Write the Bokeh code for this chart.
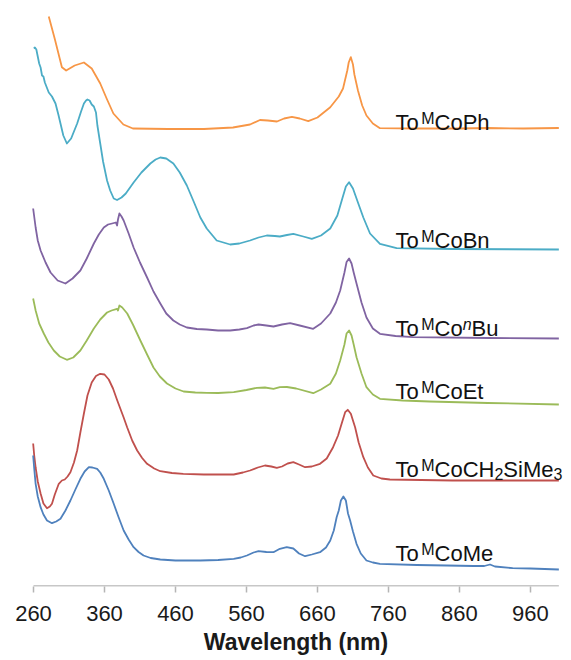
from bokeh.plotting import figure
from bokeh.models import Range1d, FixedTicker, Label
from bokeh.embed import file_html
from bokeh.resources import INLINE

# ---------------- data (wavelength nm, stacked absorbance, arbitrary units) ----------------
wl_ph = [281.5, 290, 300, 306, 318, 331, 342, 354, 363, 372.5, 386.6, 400, 450, 500, 541, 565, 579, 590,
         603, 613, 624, 635, 647, 660, 678, 690, 696, 702, 704, 707, 710, 712, 717, 723, 729, 738, 748, 800,
         860, 900, 950, 1000]
ab_ph = [570, 547.5, 519.3, 516, 521, 524, 518, 503, 488, 473, 462, 458, 457.5, 457.5, 459, 462, 466.5, 466,
         465, 468, 469.7, 468, 465.3, 469, 479.3, 490, 498, 516, 524, 529.3, 522, 512, 496, 481, 471, 463, 458.3,
         458, 458, 458.5, 458, 458.5]

wl_bn = [260.5, 262, 264, 266, 268, 270, 272, 274, 276, 281.5, 286, 291, 295, 298, 302, 307, 313,
         321.5, 327, 331, 334, 336, 339, 342, 345, 348, 350, 354, 358, 363.6, 368, 373, 377.7, 384, 390,
         401, 412, 424.6, 432, 438.6, 447, 457, 466, 476, 485, 495, 504, 518, 537, 550, 565, 577, 588.6,
         600, 607, 617, 626, 640, 652, 665, 678, 688, 695, 700, 704.5, 710, 717, 724.6, 734, 748, 771.5,
         850, 1000]
ab_bn = [538, 539, 537, 530, 523, 519, 511, 510, 504, 494, 490, 483, 472, 463, 451, 443, 448,
         463, 475, 483, 486, 487, 486, 482, 480, 474, 461, 443, 425, 406, 396, 388, 386.5, 389, 393,
         404, 414, 423, 427, 429, 428, 423, 414, 401, 386, 369, 358, 346, 342, 343, 346, 349, 351,
         350.5, 350, 351.5, 352.7, 350, 347.7, 351, 358, 371, 388, 400, 404.3, 398, 384, 369, 353, 342.7, 338.3,
         337.5, 337]

wl_bu = [259.5, 263, 266, 270, 277, 284, 294, 305, 315, 326, 335, 345, 352, 359, 365, 370.7, 376, 377.7,
         379, 381, 384, 387, 394, 401, 410, 420, 429, 438.6, 447, 457, 466, 476, 490, 504, 520, 537, 550,
         560.6, 570, 577, 588, 598, 610, 621.5, 635, 654, 665, 678, 686, 692, 698, 701, 704.5, 708, 711, 715,
         722, 729, 738, 748, 770, 795, 900, 1000]
ab_bu = [378, 359, 346, 336, 324, 314, 306, 303, 308, 316, 328, 343, 352, 359, 362, 363, 364, 361,
         367, 373, 370, 366, 353, 339, 324, 309, 295, 283, 273, 266, 262, 259, 257.5, 257, 256, 256, 257,
         258.3, 261, 262, 261, 260, 262, 263.3, 261, 257.7, 263, 273, 284, 296, 314, 324.5, 328, 323, 314, 303,
         284, 269, 258, 252.7, 250.5, 249.3, 248.5, 248]

wl_et = [259.5, 263, 268, 274.5, 281, 288.6, 297, 307, 316, 326, 335, 345, 354, 363.6, 370, 377.7, 379,
         381, 385, 392, 400, 410.5, 420, 429, 438, 448, 460, 471.4, 488, 504, 520, 542, 560, 574.7, 586,
         598, 607, 617, 630, 654, 665, 678, 686, 692, 698, 701, 704.5, 708, 711, 715, 722, 729, 738, 748, 780,
         818, 900, 1000]
ab_et = [288, 276, 263, 253, 244, 236, 230, 226.7, 229, 236, 246, 258, 267, 274, 276, 277.7, 276,
         281, 279, 273, 262, 246, 232, 219, 210, 203, 198, 195, 194, 193.7, 193.5, 194.3, 196.5, 198.7, 199,
         197.7, 199.3, 199.5, 198, 193.3, 197, 202.7, 213, 226, 242, 253, 256, 251, 242, 229.3, 213, 199.3, 192,
         187.7, 186, 185, 183.5, 182]

wl_si = [259.5, 261, 263, 266, 270, 274, 279, 283, 286, 290, 295.6, 300, 304, 308, 312, 317, 321.5, 326,
         331, 336, 342, 348, 354, 360, 366, 372, 378, 387, 392, 399, 406, 413, 420, 430, 438.6, 455, 471,
         500, 542, 555, 565, 576, 586, 595, 602.7, 610, 618, 626, 634, 642.6, 652, 663.6, 673, 682, 689,
         694, 699, 702.6, 707, 713, 718, 724.6, 731, 738.6, 750, 762, 850, 1000]
ab_si = [143, 131, 119, 105, 93, 83, 78.3, 80, 82.7, 92, 102.7, 106, 107, 110, 114.3, 124, 136, 154,
         173, 191, 204, 210.5, 212.7, 212, 207, 198, 186, 169, 159, 146, 136, 128.5, 122.7, 118, 115.3, 113.5,
         112.7, 112, 112, 114, 116, 119, 121, 120, 118.7, 120, 123, 124.3, 122, 119.3, 120, 122.7, 128, 139.3,
         151, 162.7, 174.3, 176.7, 172.7, 159.3, 144, 129.3, 119, 111, 108, 107, 106, 106]

wl_me = [259.5, 261, 263, 266, 270, 274, 279, 286, 292, 298, 305, 312, 319, 326, 332, 338, 343, 349.6,
         354, 359, 366, 373, 380, 387, 394, 401, 408, 415, 425, 438.6, 460, 495, 520, 542, 552, 560.6, 570,
         577, 588, 598, 607, 616.7, 626, 634, 642.6, 652, 663.6, 672, 678, 683, 687, 690, 693, 696.5, 700,
         703, 706, 710, 715, 721, 729, 738, 748, 800, 842, 880, 895, 903, 910, 935, 960, 1000]
ab_me = [131, 118, 102.7, 90, 79.3, 72, 66, 63.3, 65, 67.7, 76, 86, 97, 107.7, 115, 119.3, 119, 117.7,
         114, 107.7, 96, 82.7, 69, 56, 47, 39.3, 34.5, 31, 28.5, 27, 26, 26, 26.5, 27.7, 29, 31, 34,
         35.3, 34.5, 34.3, 37.7, 39.3, 38, 33, 30.3, 32, 34.3, 39, 46, 56, 69.3, 76, 86, 90, 86,
         73, 66, 55, 42.7, 33, 26, 24, 22.7, 21.5, 21, 20.5, 20.5, 22, 20, 18.3, 18, 17]

x_ticks = [260, 360, 460, 560, 660, 760, 860, 960]
x_start, x_end = 260, 1000

# label text pieces: (text, kind) with kind in n / sup / sub / isup
label_ph = [("To", "n"), ("M", "sup"), ("CoPh", "n")]
label_bn = [("To", "n"), ("M", "sup"), ("CoBn", "n")]
label_bu = [("To", "n"), ("M", "sup"), ("Co", "n"), ("n", "isup"), ("Bu", "n")]
label_et = [("To", "n"), ("M", "sup"), ("CoEt", "n")]
label_si = [("To", "n"), ("M", "sup"), ("CoCH", "n"), ("2", "sub"), ("SiMe", "n"), ("3", "sub")]
label_me = [("To", "n"), ("M", "sup"), ("CoMe", "n")]
label_base = [464, 346, 258, 195, 117, 33]   # baseline level of each label

colors = ["#F79646", "#4BACC6", "#8064A2", "#9BBB59", "#C0504D", "#4F81BD"]

# ---------------- figure ----------------
FONT = "Liberation Sans"
AXIS_GREY = "#b5b5b5"
# frame padded on both sides of 260-1000 nm: the longest label is not clipped
# and the axis title stays centred under the data range
p = figure(width=571, height=660, output_backend="svg", toolbar_location=None,
           x_range=Range1d(244.5, 1015), y_range=Range1d(0, 578),
           y_axis_location=None,
           min_border_left=22, min_border_right=2, min_border_top=8, min_border_bottom=74)
p.outline_line_color = None
p.grid.visible = False
p.background_fill_color = "white"
p.border_fill_color = "white"

series = [(wl_ph, ab_ph), (wl_bn, ab_bn), (wl_bu, ab_bu), (wl_et, ab_et), (wl_si, ab_si), (wl_me, ab_me)]
for (wl, ab), c in zip(series, colors):
    p.line(wl, ab, line_color=c, line_width=1.8, line_join="round")

# axis baseline only across the data range 260-1000 nm
p.line([x_start, x_end], [0.5, 0.5], line_color=AXIS_GREY, line_width=1.5)

ax = p.xaxis[0]
ax.ticker = FixedTicker(ticks=x_ticks)
ax.axis_line_color = None
ax.major_tick_line_color = AXIS_GREY
ax.major_tick_line_width = 1.5
ax.major_tick_out = 6
ax.major_tick_in = 0
ax.minor_tick_line_color = None
ax.major_label_text_font = FONT
ax.major_label_text_font_size = "22px"
ax.major_label_text_color = "#1a1a1a"
ax.major_label_standoff = 13
ax.axis_label = "Wavelength (nm)"
ax.axis_label_text_font = FONT
ax.axis_label_text_font_style = "bold"
ax.axis_label_text_font_size = "23px"
ax.axis_label_text_color = "#1a1a1a"
ax.axis_label_standoff = 5

# character advance widths (per 1000 em) for Liberation Sans regular
W = {"T": 611, "o": 556, "M": 833, "C": 722, "P": 667, "h": 556, "B": 667, "n": 556, "u": 556,
     "E": 667, "t": 278, "H": 722, "S": 667, "i": 222, "e": 556, "2": 556, "3": 556}
MAIN, SMALL = 22, 16
label_x = 770
for parts, base in zip([label_ph, label_bn, label_bu, label_et, label_si, label_me], label_base):
    xo = 0.0
    for txt, kind in parts:
        size = MAIN if kind == "n" else SMALL
        dy = {"n": 0, "sup": 4, "isup": 4, "sub": -4}[kind]
        p.add_layout(Label(x=label_x, y=base + dy, x_offset=xo, text=txt,
                           text_font=FONT, text_font_size=f"{size}px",
                           text_font_style="italic" if kind == "isup" else "normal",
                           text_color="#111111", text_baseline="alphabetic", text_align="left"))
        xo += sum(W[ch] for ch in txt) * size / 1000.0

open("out.html", "w").write(file_html(p, INLINE))
